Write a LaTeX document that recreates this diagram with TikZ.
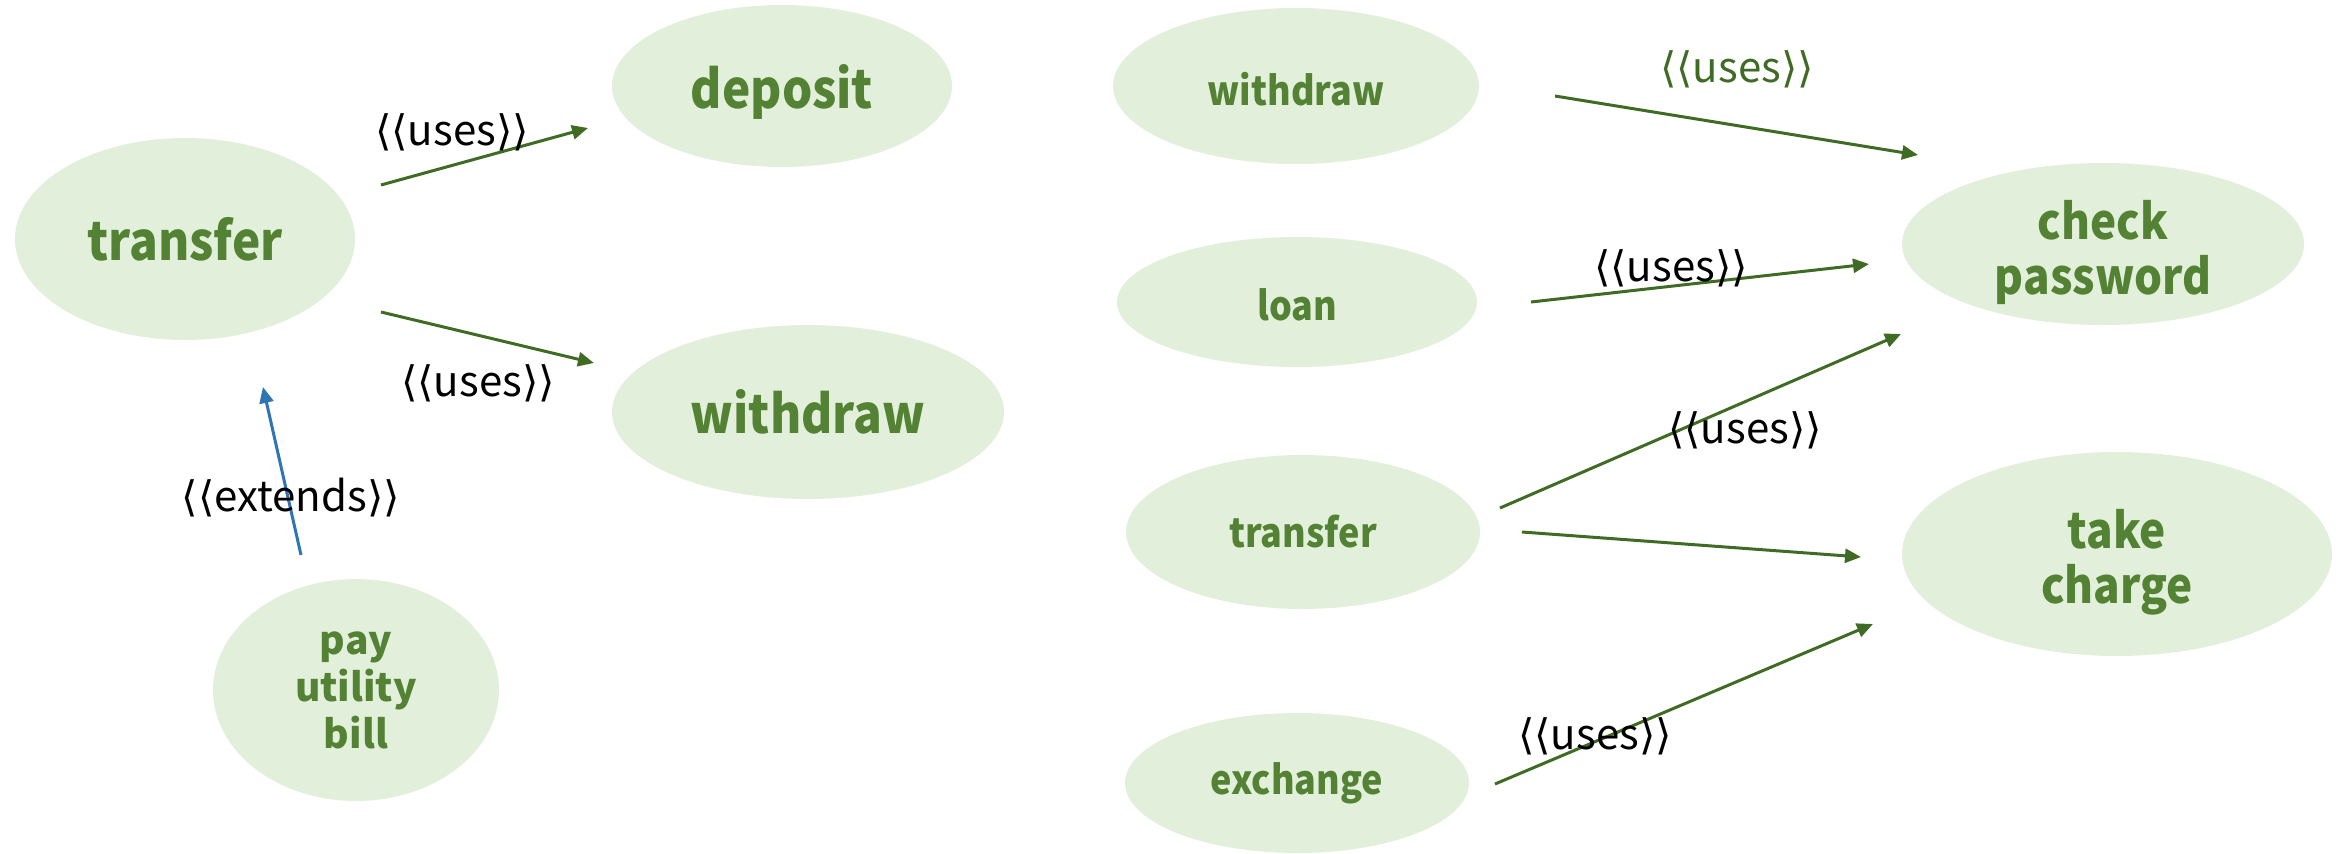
\documentclass[tikz,border=0pt]{standalone}
\usepackage{fontspec}
\setmainfont{Noto Sans CJK KR}
\newfontfamily\condf{Noto Sans CJK KR}[FakeStretch=0.9]
\newfontfamily\dvfont{DejaVu Sans}
\usetikzlibrary{arrows.meta,shapes.geometric}
\definecolor{ufill}{HTML}{E2EFDA}
\definecolor{utext}{HTML}{548235}
\definecolor{uarrow}{HTML}{3F6B24}
\definecolor{ublue}{HTML}{2E75B6}
\newcommand{\stereo}[1]{{\dvfont ⟨⟨}#1{\dvfont ⟩⟩}}
\tikzset{
  uc/.style={ellipse, fill=ufill, inner sep=0pt, text=utext, align=center},
  ut/.style={inner sep=0pt, text=utext, align=center},
  bigf/.style={font=\condf\fontsize{53}{60}\selectfont\bfseries},
  midf/.style={font=\condf\fontsize{49}{55}\selectfont\bfseries},
  smf/.style={font=\condf\fontsize{40}{48}\selectfont\bfseries},
  payf/.style={font=\fontsize{39}{47}\selectfont\bfseries},
  lab/.style={font=\fontsize{42}{48}\selectfont, text=black, inner sep=0pt},
  uses/.style={draw=uarrow, line width=3pt, -{Triangle[length=16pt,width=14pt]}},
  ext/.style={draw=ublue, line width=3pt, -{Triangle[length=16pt,width=14pt]}}
}
\begin{document}
\begin{tikzpicture}[x=1pt,y=-1pt]
\useasboundingbox (0,0) rectangle (2343,854);
% left use cases
\node[uc, bigf, minimum width=340pt, minimum height=202pt] (lt) at (185,239) {transfer};
\node[uc, minimum width=340pt, minimum height=162pt] (ldep) at (782,86) {};
\node[ut, bigf] (ldept) at ([yshift=-6pt]ldep.center) {deposit};
\node[uc, bigf, minimum width=392pt, minimum height=174pt] (lwd) at (808,412) {withdraw};
\node[uc, payf, minimum width=286pt, minimum height=222pt] (pay) at (356,690) {pay\\utility\\bill};
% right use cases
\node[uc, minimum width=366pt, minimum height=156pt] (rwd) at (1296,86) {};
\node[ut, smf] (rwdt) at ([yshift=-3pt]rwd.center) {withdraw};
\node[uc, minimum width=360pt, minimum height=130pt] (loan) at (1297,302) {};
\node[ut, smf] (loant) at ([yshift=-3pt]loan.center) {loan};
\node[uc, smf, minimum width=354pt, minimum height=154pt] (rtr) at (1303,532) {transfer};
\node[uc, smf, minimum width=344pt, minimum height=140pt] (exch) at (1297,783) {exchange};
\node[uc, minimum width=402pt, minimum height=162pt] (chk) at (2103,244) {};
\node[ut, midf] (chkt) at ([yshift=-8pt]chk.center) {check\\password};
\node[uc, minimum width=430pt, minimum height=204pt] (take) at (2117,554) {};
\node[ut, midf] (taket) at ([yshift=-8pt]take.center) {take\\charge};
% connector end points
\coordinate (a1) at (381,185); \coordinate (a2) at (588,128);
\coordinate (b1) at (381,312); \coordinate (b2) at (594,363);
\coordinate (x1) at (301,555); \coordinate (x2) at (263,387);
\coordinate (c1) at (1555,96); \coordinate (c2) at (1918,155);
\coordinate (d1) at (1531,302); \coordinate (d2) at (1869,264);
\coordinate (e1) at (1500,508); \coordinate (e2) at (1901,334);
\coordinate (f1) at (1522,532); \coordinate (f2) at (1861,557);
\coordinate (g1) at (1495,784); \coordinate (g2) at (1873,624);
% connectors
\draw[uses] (a1) -- (a2);
\draw[uses] (b1) -- (b2);
\draw[ext] (x1) -- (x2);
\draw[uses] (c1) -- (c2);
\draw[uses] (d1) -- (d2);
\draw[uses] (e1) -- (e2);
\draw[uses] (f1) -- (f2);
\draw[uses] (g1) -- (g2);
% labels
\node[lab] (l1) at (452,132) {\stereo{uses}};
\node[lab] (l2) at (478,383) {\stereo{uses}};
\node[lab] (lx) at (291,498) {\stereo{extends}};
\node[lab, text=uarrow] (l3) at (1737,69) {\stereo{uses}};
\node[lab] (l4) at (1671,268) {\stereo{uses}};
\node[lab] (l5) at (1745,430) {\stereo{uses}};
\node[lab] (l6) at (1595,736) {\stereo{uses}};
\end{tikzpicture}
\end{document}
